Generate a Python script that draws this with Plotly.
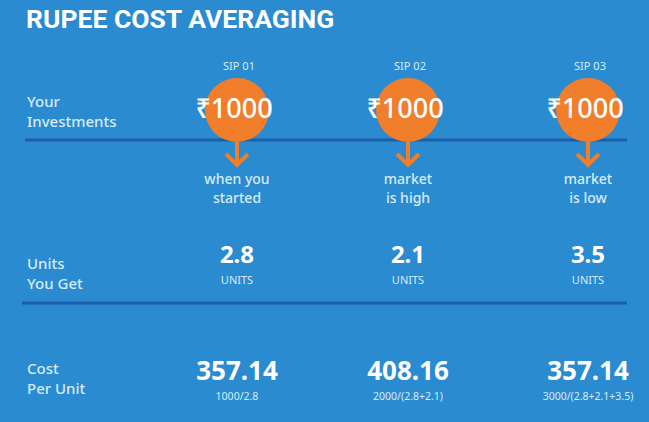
import plotly.graph_objects as go

# data
sip_labels = ["SIP 01", "SIP 02", "SIP 03"]
investment = [1000, 1000, 1000]
market_notes = ["when you<br>started", "market<br>is high", "market<br>is low"]
units = [2.8, 2.1, 3.5]
cost_per_unit = [357.14, 408.16, 357.14]
cost_formulas = ["1000/2.8", "2000/(2.8+2.1)", "3000/(2.8+2.1+3.5)"]
row_labels = ["Your<br>Investments", "Units<br>You Get", "Cost<br>Per Unit"]

# layout (pixel space, y measured from top)
W, H = 649, 422
col_x = [237, 408, 588]
row_label_y = [111, 273, 378]
BG = "#2a8bd0"
ORANGE = "#f07e2b"
DARK = "#1c5ea9"
PALE = "#d6ebf9"
FONT = "Noto Sans, DejaVu Sans, sans-serif"

fig = go.Figure()

# orange circles
fig.add_trace(go.Scatter(
    x=col_x, y=[110] * 3, mode="markers",
    marker=dict(size=64, color=ORANGE, line_width=0),
    hoverinfo="skip"))

# arrows below the circles
for cx in col_x:
    fig.add_trace(go.Scatter(
        x=[cx, cx], y=[142, 164], mode="lines",
        line=dict(color=ORANGE, width=4), hoverinfo="skip"))
    fig.add_trace(go.Scatter(
        x=[cx - 11, cx, cx + 11], y=[154, 165, 154], mode="lines",
        line=dict(color=ORANGE, width=4), hoverinfo="skip"))

# SIP labels
fig.add_trace(go.Scatter(
    x=[c + 2 for c in col_x], y=[67] * 3, mode="text", text=sip_labels,
    textfont=dict(family=FONT, size=11, color=PALE), hoverinfo="skip"))

# investment amounts
fig.add_trace(go.Scatter(
    x=[c - 3 for c in col_x], y=[111] * 3, mode="text",
    text=["\u20b9" + str(v) for v in investment],
    textfont=dict(family=FONT, size=27, color="white", weight=500), hoverinfo="skip"))

# market condition notes
fig.add_trace(go.Scatter(
    x=col_x, y=[190] * 3, mode="text", text=market_notes,
    textfont=dict(family=FONT, size=14, color=PALE, weight=500), hoverinfo="skip"))

# units
fig.add_trace(go.Scatter(
    x=col_x, y=[257] * 3, mode="text", text=[str(u) for u in units],
    textfont=dict(family=FONT, size=24, color="white", weight="bold"),
    hoverinfo="skip"))
fig.add_trace(go.Scatter(
    x=col_x, y=[281] * 3, mode="text", text=["UNITS"] * 3,
    textfont=dict(family=FONT, size=11, color=PALE), hoverinfo="skip"))

# cost per unit
fig.add_trace(go.Scatter(
    x=col_x, y=[373] * 3, mode="text", text=[f"{c:.2f}" for c in cost_per_unit],
    textfont=dict(family=FONT, size=26, color="white", weight="bold"),
    hoverinfo="skip"))
fig.add_trace(go.Scatter(
    x=col_x, y=[397] * 3, mode="text", text=cost_formulas,
    textfont=dict(family=FONT, size=10.5, color=PALE), hoverinfo="skip"))

# row labels on the left
for lbl, ly in zip(row_labels, row_label_y):
    fig.add_annotation(x=25, y=ly, text=lbl, showarrow=False,
                       xanchor="left", yanchor="middle", align="left",
                       font=dict(family=FONT, size=15, color=PALE, weight=500))

# title
fig.add_annotation(x=24, y=18, text="<b>RUPEE COST AVERAGING</b>", showarrow=False,
                   xanchor="left", yanchor="middle",
                   font=dict(family="Roboto", size=26.5, color="white"))

# separator lines
fig.add_shape(type="line", x0=25, x1=627, y0=140, y1=140,
              line=dict(color=DARK, width=3), layer="below")
fig.add_shape(type="line", x0=22, x1=627, y0=303, y1=303,
              line=dict(color=DARK, width=3), layer="below")

fig.update_xaxes(range=[0, W], visible=False, fixedrange=True)
fig.update_yaxes(range=[H, 0], visible=False, fixedrange=True)
fig.update_layout(
    width=W, height=H,
    margin=dict(l=0, r=0, t=0, b=0),
    paper_bgcolor=BG, plot_bgcolor=BG,
    showlegend=False,
)

fig.write_html("out.html", config=dict(displayModeBar=False),
               post_script="document.body.style.margin='0';")
